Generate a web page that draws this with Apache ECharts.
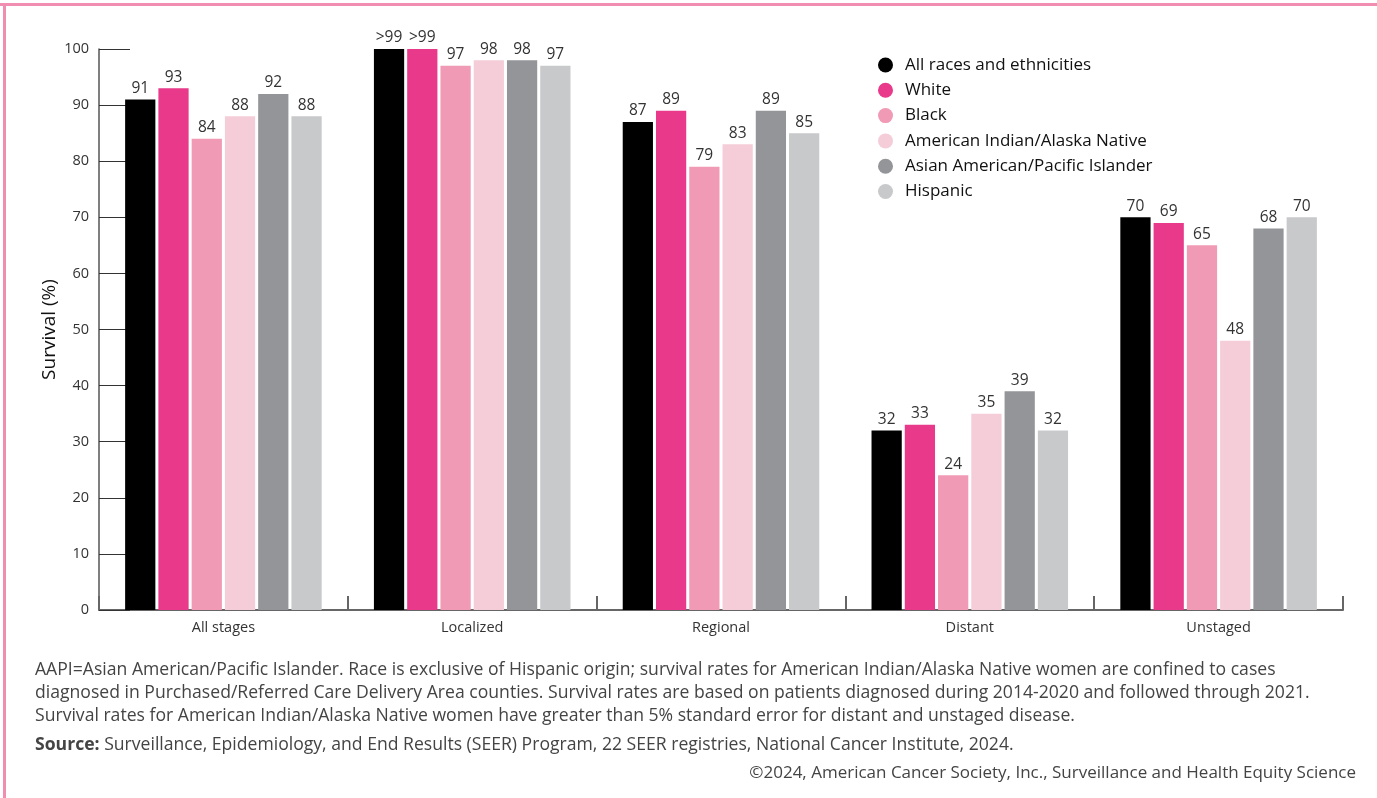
<!DOCTYPE html>
<html><head><meta charset="utf-8">
<script src="https://cdn.jsdelivr.net/npm/echarts@6/dist/echarts.min.js"></script>
<style>html,body{margin:0;padding:0;background:#fff;}#c{width:1377px;height:798px;}</style>
</head><body><div id="c"></div>
<script>
const categories = ['All stages', 'Localized', 'Regional', 'Distant', 'Unstaged'];
const seriesNames = ['All races and ethnicities', 'White', 'Black', 'American Indian/Alaska Native', 'Asian American/Pacific Islander', 'Hispanic'];
const allRaces = [91, 100, 87, 32, 70];
const white = [93, 100, 89, 33, 69];
const black = [84, 97, 79, 24, 65];
const aian = [88, 98, 83, 35, 48];
const aapi = [92, 98, 89, 39, 68];
const hispanic = [88, 97, 85, 32, 70];
// display labels (">99" where value exceeds 99)
const allRacesLabels = ['91', '>99', '87', '32', '70'];
const whiteLabels = ['93', '>99', '89', '33', '69'];
const blackLabels = ['84', '97', '79', '24', '65'];
const aianLabels = ['88', '98', '83', '35', '48'];
const aapiLabels = ['92', '98', '89', '39', '68'];
const hispanicLabels = ['88', '97', '85', '32', '70'];
const yTicks = [0, 10, 20, 30, 40, 50, 60, 70, 80, 90, 100];
const footLines = [
  'AAPI=Asian American/Pacific Islander. Race is exclusive of Hispanic origin; survival rates for American Indian/Alaska Native women are confined to cases',
  'diagnosed in Purchased/Referred Care Delivery Area counties. Survival rates are based on patients diagnosed during 2014-2020 and followed through 2021.',
  'Survival rates for American Indian/Alaska Native women have greater than 5% standard error for distant and unstaged disease.'
];
const sourceText = 'Surveillance, Epidemiology, and End Results (SEER) Program, 22 SEER registries, National Cancer Institute, 2024.';
const copyrightText = '\u00A92024, American Cancer Society, Inc., Surveillance and Health Equity Science';

const colors = ['#000000', '#e8398a', '#f09ab5', '#f5cdd9', '#939598', '#c8c9cb'];
const values = [allRaces, white, black, aian, aapi, hispanic];
const labels = [allRacesLabels, whiteLabels, blackLabels, aianLabels, aapiLabels, hispanicLabels];
const FONT = 'Open Sans';

const chart = echarts.init(document.getElementById('c'), null, {renderer: 'canvas'});
const series = seriesNames.map((name, i) => ({
  name: name,
  type: 'bar',
  data: values[i],
  itemStyle: {color: colors[i]},
  barGap: '10%',
  barCategoryGap: '21%',
  label: {
    show: true, position: 'top', distance: 3,
    fontFamily: FONT, fontSize: 15.5, color: '#333',
    formatter: p => labels[i][p.dataIndex]
  },
  z: 3
}));

const graphics = [
  {type: 'rect', shape: {x: 0, y: 3, width: 1377, height: 3}, style: {fill: '#f08db0'}, silent: true},
  {type: 'rect', shape: {x: 3, y: 3, width: 3, height: 795}, style: {fill: '#f08db0'}, silent: true}
];
const FS = 17.6;
footLines.forEach((t, k) => {
  graphics.push({type: 'text', left: 35, top: 660.5 + k * 23,
    style: {text: t, fontFamily: FONT, fontSize: FS, fill: '#444'}});
});
graphics.push({type: 'text', left: 35, top: 736,
  style: {text: '{b|Source:} ' + sourceText, fontFamily: FONT, fontSize: FS, fill: '#444',
    rich: {b: {fontWeight: 'bold', fontFamily: FONT, fontSize: FS, fill: '#444', color: '#444'}}}});
graphics.push({type: 'text', right: 21, top: 765,
  style: {text: copyrightText, fontFamily: FONT, fontSize: 17, fill: '#444'}});

chart.setOption({
  animation: false,
  backgroundColor: '#fff',
  textStyle: {fontFamily: FONT},
  grid: {left: 99, right: 34, top: 49, bottom: 188, containLabel: false},
  legend: {
    orient: 'vertical', left: 873, top: 51.5,
    icon: 'circle', itemWidth: 15, itemHeight: 15, itemGap: 8.3,
    itemStyle: {borderWidth: 0},
    textStyle: {fontFamily: FONT, fontSize: 17, color: '#111', padding: [0, 0, 0, 7]},
    data: seriesNames
  },
  xAxis: {
    type: 'category', data: categories,
    axisLine: {lineStyle: {color: '#666', width: 2}},
    axisTick: {show: true, inside: true, length: 14, lineStyle: {color: '#666', width: 2}},
    axisLabel: {fontFamily: FONT, fontSize: 14.5, color: '#333', margin: 10}
  },
  yAxis: {
    type: 'value', min: 0, max: 100, interval: 10,
    name: 'Survival (%)', nameLocation: 'middle', nameGap: 40, nameRotate: 90,
    nameMoveOverlap: false,
    nameTextStyle: {fontFamily: FONT, fontSize: 19, color: '#111'},
    axisLine: {show: true, lineStyle: {color: '#555', width: 1.5}},
    axisTick: {show: true, inside: true, length: 31, lineStyle: {color: '#333', width: 1}},
    splitLine: {show: false},
    axisLabel: {fontFamily: FONT, fontSize: 14.5, color: '#333', margin: 10,
      formatter: v => yTicks.includes(v) ? String(v) : ''}
  },
  series: series,
  graphic: graphics
});
</script></body></html>
